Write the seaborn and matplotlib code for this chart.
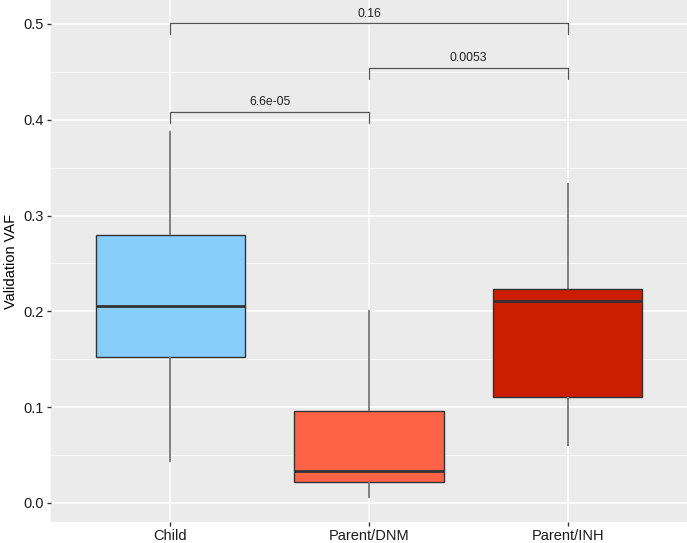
import numpy as np
import pandas as pd
import matplotlib
matplotlib.use("Agg")
import matplotlib.pyplot as plt
import seaborn as sns

categories = ["Child", "Parent/DNM", "Parent/INH"]
# five-number summaries (min, q1, median, q3, max)
child_vals = [0.043, 0.152, 0.205, 0.280, 0.388]
dnm_vals = [0.005, 0.0216, 0.0335, 0.0955, 0.201]
inh_vals = [0.0596, 0.111, 0.2106, 0.2235, 0.334]
colors = ["#87CEFA", "#FF6347", "#CD1D00"]
y_ticks = [0.0, 0.1, 0.2, 0.3, 0.4, 0.5]
comparisons = [("Child", "Parent/DNM", 0.408, "6.6e-05"),
               ("Parent/DNM", "Parent/INH", 0.454, "0.0053"),
               ("Child", "Parent/INH", 0.5005, "0.16")]

df = pd.DataFrame({
    "group": np.repeat(categories, 5),
    "vaf": child_vals + dnm_vals + inh_vals,
})

sns.set_theme(style="darkgrid")
plt.rcParams["font.family"] = ["Liberation Sans", "DejaVu Sans"]

fig = plt.figure(figsize=(6.87, 5.43), dpi=100)
ax = fig.add_axes([51 / 687, 21 / 543, 1 - 51 / 687, 1 - 21 / 543])
ax.set_facecolor("#EBEBEB")

sns.boxplot(data=df, x="group", y="vaf", hue="group", palette=colors,
            order=categories, hue_order=categories, legend=False,
            saturation=1, whis=np.inf, width=0.75, ax=ax, zorder=3,
            boxprops=dict(edgecolor="#333333", linewidth=1.0),
            medianprops=dict(color="#333333", linewidth=2.0),
            whiskerprops=dict(color="#777777", linewidth=1.3),
            capprops=dict(linewidth=0),
            showfliers=False)

ax.set_xlim(-0.6, 2.6)
ax.set_ylim(-0.0200, 0.525)
ax.set_yticks(y_ticks)
ax.set_yticklabels([f"{t:.1f}" for t in y_ticks])
ax.set_yticks([0.05, 0.15, 0.25, 0.35, 0.45], minor=True)
ax.grid(True, which="major", color="white", linewidth=1.1, zorder=0)
ax.grid(True, which="minor", axis="y", color="white", linewidth=0.5, zorder=0)
ax.set_axisbelow(True)
for s in ax.spines.values():
    s.set_visible(False)

ax.tick_params(axis="both", which="major", length=3, width=1, color="#333333",
               labelsize=10.5, labelcolor="#1a1a1a", pad=2, left=True, bottom=True)
ax.tick_params(axis="y", which="minor", length=0)
ax.set_xlabel("")
ax.set_ylabel("Validation VAF", fontsize=10.5, color="#000000", labelpad=4)

pos = {c: i for i, c in enumerate(categories)}
drop = 0.011
for a, b, yb, lab in comparisons:
    xa, xb = pos[a], pos[b]
    ax.plot([xa, xa, xb, xb], [yb - drop, yb, yb, yb - drop], color="#555555",
            linewidth=0.9, zorder=4, clip_on=False)
    ax.text((xa + xb) / 2, yb + 0.004, lab, ha="center", va="bottom",
            fontsize=8.8, color="#222222", zorder=5)

fig.savefig("out.png", dpi=100)
